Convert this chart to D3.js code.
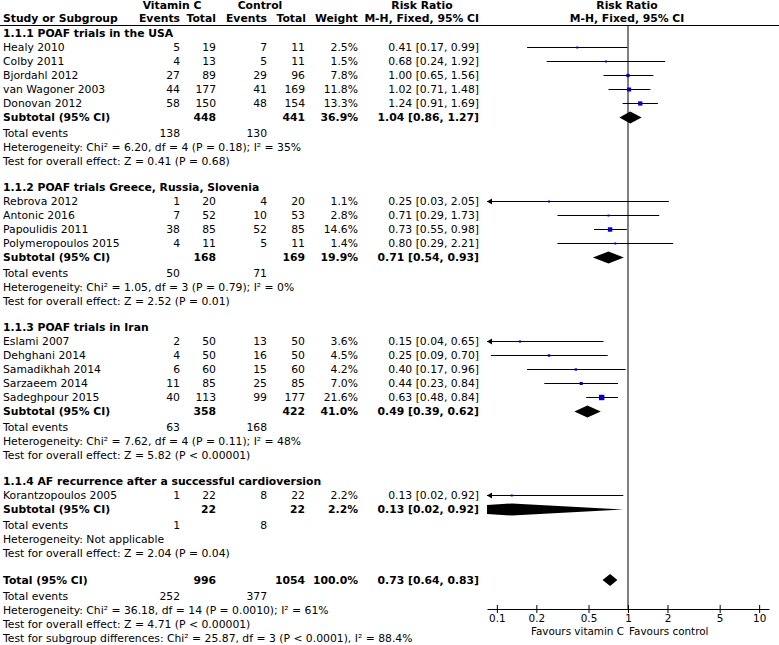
<!DOCTYPE html>
<html><head><meta charset="utf-8">
<script src="https://cdn.jsdelivr.net/npm/d3@7"></script>
<style>
html,body{margin:0;padding:0;background:#fff;}
text{font-family:"DejaVu Sans",Verdana,sans-serif;font-size:10.8px;fill:#000;}
.b{font-weight:bold;}
</style></head>
<body>
<svg id="c" width="779" height="645"></svg>
<script>
// ---------- data ----------
const groupTitles = ["1.1.1 POAF trials in the USA","1.1.2 POAF trials Greece, Russia, Slovenia","1.1.3 POAF trials in Iran","1.1.4 AF recurrence after a successful cardioversion"];
const studies = ["Healy 2010","Colby 2011","Bjordahl 2012","van Wagoner 2003","Donovan 2012",
  "Rebrova 2012","Antonic 2016","Papoulidis 2011","Polymeropoulos 2015",
  "Eslami 2007","Dehghani 2014","Samadikhah 2014","Sarzaeem 2014","Sadeghpour 2015",
  "Korantzopoulos 2005"];
const studyGroup = [0,0,0,0,0,1,1,1,1,2,2,2,2,2,3];
const eventsVitC = [5,4,27,44,58,1,7,38,4,2,4,6,11,40,1];
const totalVitC  = [19,13,89,177,150,20,52,85,11,50,50,60,85,113,22];
const eventsCtrl = [7,5,29,41,48,4,10,52,5,13,16,15,25,99,8];
const totalCtrl  = [11,11,96,169,154,20,53,85,11,50,50,60,85,177,22];
const weights    = [2.5,1.5,7.8,11.8,13.3,1.1,2.8,14.6,1.4,3.6,4.5,4.2,7.0,21.6,2.2];
const rr         = [0.41,0.68,1.00,1.02,1.24,0.25,0.71,0.73,0.80,0.15,0.25,0.40,0.44,0.63,0.13];
const rrLow      = [0.17,0.24,0.65,0.71,0.91,0.03,0.29,0.55,0.29,0.04,0.09,0.17,0.23,0.48,0.02];
const rrHigh     = [0.99,1.92,1.56,1.48,1.69,2.05,1.73,0.98,2.21,0.65,0.70,0.96,0.84,0.84,0.92];

const subTotalVitC = [448,168,358,22];
const subTotalCtrl = [441,169,422,22];
const subWeight    = [36.9,19.9,41.0,2.2];
const subRR        = [1.04,0.71,0.49,0.13];
const subLow       = [0.86,0.54,0.39,0.02];
const subHigh      = [1.27,0.93,0.62,0.92];
const subEventsVitC = [138,50,63,1];
const subEventsCtrl = [130,71,168,8];
const subHetero = ["Heterogeneity: Chi\u00b2 = 6.20, df = 4 (P = 0.18); I\u00b2 = 35%",
  "Heterogeneity: Chi\u00b2 = 1.05, df = 3 (P = 0.79); I\u00b2 = 0%",
  "Heterogeneity: Chi\u00b2 = 7.62, df = 4 (P = 0.11); I\u00b2 = 48%",
  "Heterogeneity: Not applicable"];
const subEffect = ["Test for overall effect: Z = 0.41 (P = 0.68)",
  "Test for overall effect: Z = 2.52 (P = 0.01)",
  "Test for overall effect: Z = 5.82 (P < 0.00001)",
  "Test for overall effect: Z = 2.04 (P = 0.04)"];

const overallTotals = [996,1054];
const overallWeight = 100.0;
const overallRR = [0.73,0.64,0.83];
const overallEvents = [252,377];
const overallTexts = ["Heterogeneity: Chi\u00b2 = 36.18, df = 14 (P = 0.0010); I\u00b2 = 61%",
  "Test for overall effect: Z = 4.71 (P < 0.00001)",
  "Test for subgroup differences: Chi\u00b2 = 25.87, df = 3 (P < 0.0001), I\u00b2 = 88.4%"];
const tickValues = [0.1,0.2,0.5,1,2,5,10];
const favourLabels = ["Favours vitamin C","Favours control"];

// ---------- layout ----------
const svg = d3.select("#c");
const x = d3.scaleLog().domain([0.0841, 11.89]).range([487, 769]);
const sq = d3.scaleSqrt().domain([0, 21.6]).range([0, 5.4]);
const col = {label:3, ev1:180, tot1:216, ev2:267, tot2:305, w:358, rr:479};
const fmt = v => v.toFixed(2);
const ciText = (a,b,c) => `${fmt(a)} [${fmt(b)}, ${fmt(c)}]`;
const pct = v => v.toFixed(1) + "%";

// build rows
const rows = [];
const gaps = {heading:26, study:14, subtotal:14, events:16, text:14, total:26.5};
let yc = 33.5, first = true;
function push(r){ if(!first) yc += gaps[r.kind]; first=false; r.y = yc; rows.push(r); }
groupTitles.forEach((g,gi)=>{
  push({kind:"heading", label:g});
  studies.forEach((s,i)=>{ if(studyGroup[i]===gi) push({kind:"study", i}); });
  push({kind:"subtotal", gi});
  push({kind:"events", a:subEventsVitC[gi], b:subEventsCtrl[gi]});
  push({kind:"text", label:subHetero[gi]});
  push({kind:"text", label:subEffect[gi]});
});
push({kind:"total"});
push({kind:"events", a:overallEvents[0], b:overallEvents[1]});
overallTexts.forEach(t=>push({kind:"text", label:t}));

const dy = 3.9;
function txt(xp, y, s, anchor, bold){
  return svg.append("text").attr("x",xp).attr("y",y+dy).attr("text-anchor",anchor||"start")
    .attr("class", bold?"b":null).text(s);
}

// header
txt(172, 5, "Vitamin C", "middle", true);
txt(260, 5, "Control", "middle", true);
txt(422, 5, "Risk Ratio", "middle", true);
txt(627, 5, "Risk Ratio", "middle", true);
txt(col.label, 18, "Study or Subgroup", "start", true);
txt(col.ev1, 18, "Events", "end", true);
txt(col.tot1, 18, "Total", "end", true);
txt(col.ev2, 18, "Events", "end", true);
txt(col.tot2+1, 18, "Total", "end", true);
txt(col.w, 18, "Weight", "end", true);
txt(col.rr, 18, "M-H, Fixed, 95% CI", "end", true);
txt(627, 18, "M-H, Fixed, 95% CI", "middle", true);
svg.append("line").attr("x1",0).attr("x2",779).attr("y1",25.5).attr("y2",25.5)
  .attr("stroke","#000").attr("stroke-width",1);

// axis and null line
const axisY = 609;
svg.append("line").attr("x1",x(1)).attr("x2",x(1)).attr("y1",25.5).attr("y2",axisY)
  .attr("stroke","#000").attr("stroke-width",1);
const ax = svg.append("g").attr("transform",`translate(0,${axisY})`)
  .call(d3.axisBottom(x).tickValues(tickValues).tickFormat(d=>String(d)).tickSizeOuter(0).tickSizeInner(4));
ax.attr("font-size",null).attr("font-family",null);
ax.select(".domain").attr("stroke","#000");
ax.selectAll(".tick line").attr("y1",-4).attr("y2",4).attr("stroke","#000");
ax.selectAll(".tick text").attr("y",13).attr("dy",null)
  .style("font-family","DejaVu Sans").style("font-size","10.4px");
svg.append("text").attr("x",x(1)-4).attr("y",634.5).attr("text-anchor","end")
  .style("font-size","10.4px").text(favourLabels[0]);
svg.append("text").attr("x",x(1)+1).attr("y",634.5).attr("text-anchor","start")
  .style("font-size","10.4px").text(favourLabels[1]);

const clip = svg.append("clipPath").attr("id","pc").append("rect")
  .attr("x",x.range()[0]).attr("y",0).attr("width",x.range()[1]-x.range()[0]).attr("height",645);
const plot = svg.append("g").attr("clip-path","url(#pc)");
const [xmin, xmax] = x.domain();

function diamond(y, m, lo, hi){
  const h = 6;
  plot.append("path").attr("d",
    `M${x(lo)},${y}L${x(m)},${y-h}L${x(hi)},${y}L${x(m)},${y+h}Z`).attr("fill","#000");
}

rows.forEach(r=>{
  const y = r.y;
  if(r.kind==="heading") txt(col.label, y, r.label, "start", true);
  else if(r.kind==="text") txt(col.label, y, r.label, "start", false);
  else if(r.kind==="events"){
    txt(col.label, y, "Total events", "start", false);
    txt(col.ev1, y, r.a, "end", false);
    txt(col.ev2, y, r.b, "end", false);
  } else if(r.kind==="study"){
    const i = r.i;
    txt(col.label, y, studies[i]);
    txt(col.ev1, y, eventsVitC[i], "end");
    txt(col.tot1, y, totalVitC[i], "end");
    txt(col.ev2, y, eventsCtrl[i], "end");
    txt(col.tot2, y, totalCtrl[i], "end");
    txt(col.w, y, pct(weights[i]), "end");
    txt(col.rr, y, ciText(rr[i], rrLow[i], rrHigh[i]), "end");
    const lo = Math.max(rrLow[i], xmin), hi = Math.min(rrHigh[i], xmax);
    svg.append("line").attr("x1",x(lo)).attr("x2",x(hi)).attr("y1",y).attr("y2",y)
      .attr("stroke","#000").attr("stroke-width",1.2);
    if(rrLow[i] < xmin){
      const ax0 = x(xmin);
      svg.append("path").attr("d",`M${ax0},${y}L${ax0+5},${y-3}L${ax0+5},${y+3}Z`).attr("fill","#000");
    }
    const s = Math.max(2, sq(weights[i]));
    svg.append("rect").attr("x",x(rr[i])-s/2).attr("y",y-s/2).attr("width",s).attr("height",s)
      .attr("fill","#0000cc");
  } else if(r.kind==="subtotal"){
    const g = r.gi;
    txt(col.label, y, "Subtotal (95% CI)", "start", true);
    txt(col.tot1, y, subTotalVitC[g], "end", true);
    txt(col.tot2, y, subTotalCtrl[g], "end", true);
    txt(col.w, y, pct(subWeight[g]), "end", true);
    txt(col.rr, y, ciText(subRR[g], subLow[g], subHigh[g]), "end", true);
    diamond(y, subRR[g], subLow[g], subHigh[g]);
  } else if(r.kind==="total"){
    txt(col.label, y, "Total (95% CI)", "start", true);
    txt(col.tot1, y, overallTotals[0], "end", true);
    txt(col.tot2, y, overallTotals[1], "end", true);
    txt(col.w, y, pct(overallWeight), "end", true);
    txt(col.rr, y, ciText(overallRR[0], overallRR[1], overallRR[2]), "end", true);
    diamond(y, overallRR[0], overallRR[1], overallRR[2]);
  }
});
</script>
</body></html>
